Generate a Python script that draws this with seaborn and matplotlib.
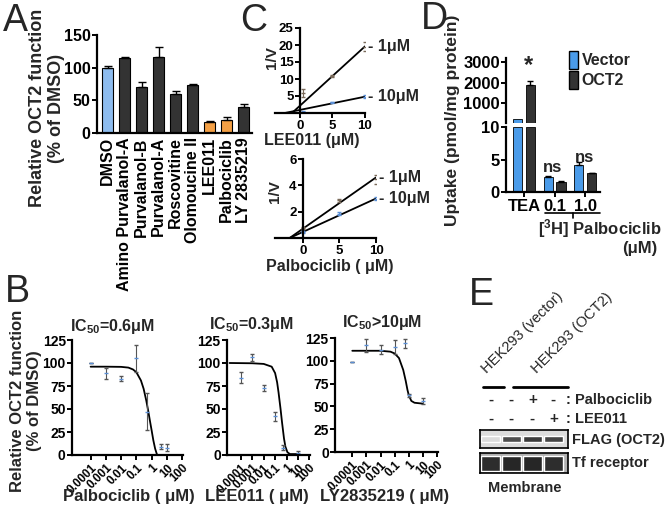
import numpy as np
import pandas as pd
import matplotlib
matplotlib.use("Agg")
import matplotlib.pyplot as plt
from matplotlib.patches import Patch
import seaborn as sns

# ------------------------------
# Data
# ------------------------------
# A: OCT2 function after CDK inhibitors
screen_drugs = ["DMSO", "Amino Purvalanol-A", "Purvalanol-B", "Purvalanol-A", "Roscovitine",
                "Olomoucine II", "LEE011", "Palbociclib", "LY 2835219"]
screen_values = [100, 115, 71, 116, 60, 73, 17, 20, 40]
screen_err = [3, 2, 7, 16, 5, 2, 2, 4, 5]
screen_colors = ["#8dbcef", "#333333", "#333333", "#333333", "#333333", "#333333",
                 "#f4a045", "#f4a045", "#333333"]

# B: dose response (points + fitted curve)
palbo_dose = [0.0001, 0.001, 0.01, 0.1, 0.5, 4, 10]
palbo_mean = [100, 89, 83, 105, 47, 9, 8]
palbo_err = [0, 6, 3, 15, 20, 3, 4]
palbo_fit_x = [0.0001, 0.001, 0.01, 0.03, 0.06, 0.1, 0.2, 0.3, 0.45, 0.6, 0.8, 1.0, 1.3, 1.7, 2.2, 2.5]
palbo_fit_y = [96, 96, 95.8, 95, 93, 90, 81, 72, 59, 48, 36, 27, 16, 7, 1, 0]

lee_dose = [0.0001, 0.001, 0.01, 0.1, 0.5, 10]
lee_mean = [84, 106, 73, 42, 8, 2]
lee_err = [6, 4, 3, 5, 3, 2]
lee_fit_x = [0.00001, 0.001, 0.01, 0.05, 0.1, 0.15, 0.2, 0.3, 0.4, 0.6, 0.8, 1.2, 2, 10]
lee_fit_y = [100, 99.7, 99, 96, 89, 79, 68, 50, 36, 18, 9, 3, 1, 1]

ly_dose = [0.0001, 0.001, 0.01, 0.1, 0.5, 1, 10]
ly_mean = [99, 117, 112, 115, 119, 62, 56]
ly_err = [0, 7, 5, 8, 5, 2, 3]
ly_fit_x = [0.0001, 0.01, 0.05, 0.1, 0.2, 0.4, 0.6, 0.8, 1.0, 1.5, 2.5, 10]
ly_fit_y = [111, 111, 110, 108, 103, 90, 78, 68, 62, 56, 54, 53]

# C: 1/V vs inhibitor at two substrate concentrations
lee_inh = [0.5, 5, 10]
lee_1um = [5.9, 10.9, 19.5]
lee_1um_err = [1.2, 0.3, 1.3]
lee_10um = [0.4, 3.1, 4.8]
lee_10um_err = [0.2, 0.2, 0.5]
lee_line_x = {"1μM": [-1.2, 10], "10μM": [-2.3, 10]}
lee_line_y = {"1μM": [0, 19.6], "10μM": [0, 4.8]}

palbo_inh = [0, 5, 10]
palbo_1um = [0.75, 2.85, 4.45]
palbo_1um_err = [0.1, 0.15, 0.35]
palbo_10um = [0.45, 1.85, 3.0]
palbo_10um_err = [0.1, 0.1, 0.15]
palbo_line_x = {"1μM": [-1.8, 10], "10μM": [-1.8, 10]}
palbo_line_y = {"1μM": [0, 4.6], "10μM": [0, 3.0]}

# D: uptake in vector / OCT2 cells
uptake_groups = ["TEA", "0.1", "1.0"]
uptake_vector = [200, 2.35, 4.1]
uptake_vector_err = [0, 0.1, 0.45]
uptake_oct2 = [1900, 1.6, 2.9]
uptake_oct2_err = [160, 0.05, 0.05]

# E: western blot lanes
lane_palbo = ["-", "-", "+", "-"]
lane_lee = ["-", "-", "-", "+"]
flag_band = [0.0, 0.75, 0.85, 0.8]
tf_band = [0.9, 0.95, 0.95, 0.9]

# ------------------------------
# Style
# ------------------------------
sns.set_theme(style="ticks")
plt.rcParams["font.family"] = ["Liberation Sans", "DejaVu Sans"]
plt.rcParams["font.weight"] = "bold"
plt.rcParams["axes.labelweight"] = "bold"
plt.rcParams["axes.titleweight"] = "bold"
plt.rcParams["mathtext.fontset"] = "custom"
plt.rcParams["mathtext.rm"] = "Liberation Sans:bold"
plt.rcParams["mathtext.bf"] = "Liberation Sans:bold"
plt.rcParams["mathtext.default"] = "rm"
plt.rcParams["axes.linewidth"] = 1.6
plt.rcParams["xtick.major.width"] = 1.4
plt.rcParams["ytick.major.width"] = 1.4
plt.rcParams["xtick.major.size"] = 3.5
plt.rcParams["ytick.major.size"] = 3.5
plt.rcParams["xtick.major.pad"] = 1.5
plt.rcParams["ytick.major.pad"] = 1
plt.rcParams["axes.edgecolor"] = "black"
plt.rcParams["xtick.color"] = "black"
plt.rcParams["ytick.color"] = "black"

W, H = 668, 517
fig = plt.figure(figsize=(W / 100, H / 100), dpi=100)


def px_axes(x0, y0, x1, y1):
    return fig.add_axes([x0 / W, 1 - y1 / H, (x1 - x0) / W, (y1 - y0) / H])


def ptext(x, y, s, **kw):
    kw.setdefault("ha", "center")
    kw.setdefault("va", "center")
    return fig.text(x / W, 1 - y / H, s, **kw)


def pline(xs, ys, lw=1.2):
    fig.add_artist(plt.Line2D([x / W for x in xs], [1 - y / H for y in ys], color="black", lw=lw))


def letter(x, y, s):
    ptext(x, y, s, fontsize=27, fontweight="normal", ha="left", va="top")


# ------------------------------
# Panel A
# ------------------------------
ax = px_axes(97, 35, 252, 133)
df_a = pd.DataFrame({"drug": screen_drugs, "value": screen_values})
sns.barplot(data=df_a, x="drug", y="value", hue="drug", palette=screen_colors, width=0.65,
            saturation=1, edgecolor="black", linewidth=0.8, legend=False, ax=ax)
ax.errorbar(range(len(screen_drugs)), screen_values,
            yerr=[np.zeros(len(screen_err)), screen_err],
            fmt="none", ecolor="black", elinewidth=1, capsize=3, capthick=1)
ax.set_ylim(0, 150)
ax.set_yticks([0, 50, 100, 150])
ax.set_xlim(-0.62, 8.5)
ax.set_xlabel("")
ax.set_ylabel("")
ax.tick_params(axis="x", rotation=90, labelsize=11.5, length=0, pad=3)
ax.tick_params(axis="y", labelsize=11.5)
sns.despine(ax=ax)
ptext(47, 108, "Relative OCT2 function\n(% of DMSO)", rotation=90, fontsize=13, linespacing=1.1)
letter(3, 3, "A")

# ------------------------------
# Panel C
# ------------------------------
def lb_panel(box, inh, y1, e1, y10, e10, lx, ly, ylim, yticks, xlabel, xlab_xy, ylab_xy):
    ax = px_axes(*box)
    for conc in ["1μM", "10μM"]:
        sns.lineplot(x=lx[conc], y=ly[conc], color="black", linewidth=1.3, ax=ax)
    ax.errorbar(inh, y1, yerr=e1, fmt="_", color="#7a6a5a", ms=3, elinewidth=0.8, capsize=1.5)
    ax.errorbar(inh, y10, yerr=e10, fmt="_", color="#5b8fd6", ms=3, elinewidth=0.8, capsize=1.5)
    ax.set_xlim(-3.8, 10)
    ax.set_ylim(*ylim)
    ax.set_xticks([0, 5, 10])
    ax.set_yticks(yticks)
    ax.spines["left"].set_position(("data", 0))
    ax.tick_params(labelsize=9.5)
    sns.despine(ax=ax)
    ax.text(10.4, ly["1μM"][1], "- 1μM", fontsize=11.5, ha="left", va="center")
    ax.text(10.4, ly["10μM"][1], "- 10μM", fontsize=11.5, ha="left", va="center")
    ptext(*xlab_xy, xlabel, fontsize=11.5)
    ptext(*ylab_xy, "1/V", rotation=90, fontsize=11)
    return ax


lb_panel((275, 28, 365, 113), lee_inh, lee_1um, lee_1um_err, lee_10um, lee_10um_err,
         lee_line_x, lee_line_y, (0, 25), [5, 10, 15, 20, 25], "LEE011 (μM)", (312, 140), (272, 58))
lb_panel((275, 159, 376, 238), palbo_inh, palbo_1um, palbo_1um_err, palbo_10um, palbo_10um_err,
         palbo_line_x, palbo_line_y, (0, 6), [2, 4, 6], "Palbociclib ( μM)", (330, 266), (275, 192))
letter(240, 3, "C")

# ------------------------------
# Panel D (broken y axis)
# ------------------------------
df_d = pd.DataFrame({
    "dose": uptake_groups * 2,
    "uptake": uptake_vector + uptake_oct2,
    "construct": ["Vector"] * 3 + ["OCT2"] * 3,
    "err": uptake_vector_err + uptake_oct2_err,
})
d_pal = {"Vector": "#4a9be9", "OCT2": "#333333"}
d_hue = ["Vector", "OCT2"]
d_offset = {"Vector": -0.2125, "OCT2": 0.2125}

ax_lo = px_axes(506, 127, 600, 192)
ax_hi = px_axes(506, 58, 600, 123)
lo_df = df_d.assign(uptake=df_d["uptake"].clip(upper=10))   # lower segment only shows 0-10
for a, sub, lo, hi in ((ax_lo, lo_df, 0, 10), (ax_hi, df_d, 50, 3210)):
    sns.barplot(data=sub, x="dose", y="uptake", hue="construct", order=uptake_groups,
                hue_order=d_hue, palette=d_pal, width=0.85, gap=0.3, saturation=1,
                edgecolor="black", linewidth=0.6, legend=False, ax=a)
    for _, r in df_d.iterrows():
        if r["err"] > 0 and lo < r["uptake"] < hi:
            a.errorbar(uptake_groups.index(r["dose"]) + d_offset[r["construct"]], r["uptake"],
                       yerr=[[0], [r["err"]]], fmt="none", ecolor="black", elinewidth=1,
                       capsize=2.5)
    a.set_xlim(-0.59, 2.49)
    a.set_xlabel("")
    a.set_ylabel("")
    a.tick_params(labelsize=12)
# the upper segment only carries the TEA bars
for p in list(ax_hi.patches):
    if not p.get_height() > 50:
        p.remove()
ax_lo.set_ylim(0, 10)
ax_lo.set_yticks([0, 5, 10])
sns.despine(ax=ax_lo)
ax_hi.set_ylim(0, 3210)
ax_hi.set_yticks([1000, 2000, 3000])
ax_hi.set_xticks([])
sns.despine(ax=ax_hi, bottom=True)
ax_hi.legend(handles=[Patch(facecolor=d_pal[k], edgecolor="black", label=k) for k in d_hue],
             loc="upper left", bbox_to_anchor=(0.6, 1.2), frameon=False, fontsize=11.5,
             handlelength=0.6, handleheight=1.3, handletextpad=0.2, labelspacing=0.15,
             borderaxespad=0)
ptext(528, 66, "*", fontsize=17)
ptext(552, 168, "ns", fontsize=12)
ptext(585, 158, "ns", fontsize=12)
pline([545, 600], [213, 213])
pline([573, 573], [213, 218])
ptext(600, 229, r"[$^{3}$H] Palbociclib", fontsize=12)
ptext(640, 248, "(μM)", fontsize=12)
ptext(452, 120, "Uptake (pmol/mg protein)", rotation=90, fontsize=12.5)
letter(421, 1, "D")

# ------------------------------
# Panel B
# ------------------------------
b_ticks = [0.0001, 0.001, 0.01, 0.1, 1, 10, 100]
b_ticklabels = ["0.0001", "0.001", "0.01", "0.1", "1", "10", "100"]


def dose_panel(box, dose, mean, err, fit_x, fit_y, title, title_xy, xlabel, xlab_x):
    ax = px_axes(*box)
    sns.lineplot(x=fit_x, y=fit_y, color="black", linewidth=1.3, ax=ax)
    ax.errorbar(dose, mean, yerr=err, fmt="_", color="#5b8fd6", ecolor="#555555", ms=3,
                elinewidth=0.8, capsize=1.5)
    ax.set_xscale("log")
    ax.set_xlim(6e-6, 115)
    ax.set_ylim(0, 125)
    ax.set_yticks([0, 25, 50, 75, 100, 125])
    ax.set_xticks(b_ticks)
    ax.set_xticklabels(b_ticklabels, rotation=45, ha="right", rotation_mode="anchor")
    ax.minorticks_off()
    ax.tick_params(axis="x", labelsize=8.5)
    ax.tick_params(axis="y", labelsize=10)
    sns.despine(ax=ax)
    ptext(*title_xy, title, fontsize=11.5)
    ptext(xlab_x, 496, xlabel, fontsize=12)
    return ax


dose_panel((72, 340, 183, 455), palbo_dose, palbo_mean, palbo_err, palbo_fit_x, palbo_fit_y,
           r"IC$_{50}$=0.6μM", (112, 327), "Palbociclib ( μM)", 129)
dose_panel((227, 340, 310, 455), lee_dose, lee_mean, lee_err, lee_fit_x, lee_fit_y,
           r"IC$_{50}$=0.3μM", (251, 324), "LEE011 ( μM)", 257)
dose_panel((335, 338, 438, 452), ly_dose, ly_mean, ly_err, ly_fit_x, ly_fit_y,
           r"IC$_{50}$>10μM", (382, 323), "LY2835219 ( μM)", 385)
ptext(26, 401, "Relative OCT2 function\n(% of DMSO)", rotation=90, fontsize=12, linespacing=1.1)
letter(5, 274, "B")

# ------------------------------
# Panel E (western blot)
# ------------------------------
def blot(box, bands, thick, bg):
    ax = px_axes(*box)
    ax.set_facecolor(bg)
    ax.bar(range(len(bands)), [thick] * len(bands), bottom=0.5 - thick / 2, width=0.9,
           color=[(0.12, 0.12, 0.12, b) for b in bands])
    ax.set_xlim(-0.5, 3.7)
    ax.set_ylim(0, 1)
    ax.set_xticks([])
    ax.set_yticks([])
    for s in ax.spines.values():
        s.set_linewidth(1.2)
    return ax


ax_flag = blot((480, 430, 568, 448), flag_band, 0.28, "#dcdcdc")
ax_tf = blot((480, 453, 568, 473), tf_band, 0.75, "#b0b0b0")
for i, (p, l) in enumerate(zip(lane_palbo, lane_lee)):
    ax_flag.text(i, 2.67, p, fontsize=11, ha="center", va="center", clip_on=False)
    ax_flag.text(i, 1.61, l, fontsize=11, ha="center", va="center", clip_on=False)
ptext(566, 400, ": Palbociclib", fontsize=10.5, ha="left")
ptext(566, 419, ": LEE011", fontsize=10.5, ha="left")
ptext(572, 440, "FLAG (OCT2)", fontsize=10.5, ha="left")
ptext(572, 463, "Tf receptor", fontsize=10.5, ha="left")
ptext(525, 488, "Membrane", fontsize=10.5)
pline([483, 504], [387, 387], lw=2)
pline([513, 568], [387, 387], lw=2)
ptext(489, 376, "HEK293 (vector)", rotation=45, rotation_mode="anchor", ha="left", va="bottom",
      fontsize=10.5, fontweight="normal")
ptext(539, 376, "HEK293 (OCT2)", rotation=45, rotation_mode="anchor", ha="left", va="bottom",
      fontsize=10.5, fontweight="normal")
letter(469, 277, "E")

fig.savefig("out.png", dpi=100)
